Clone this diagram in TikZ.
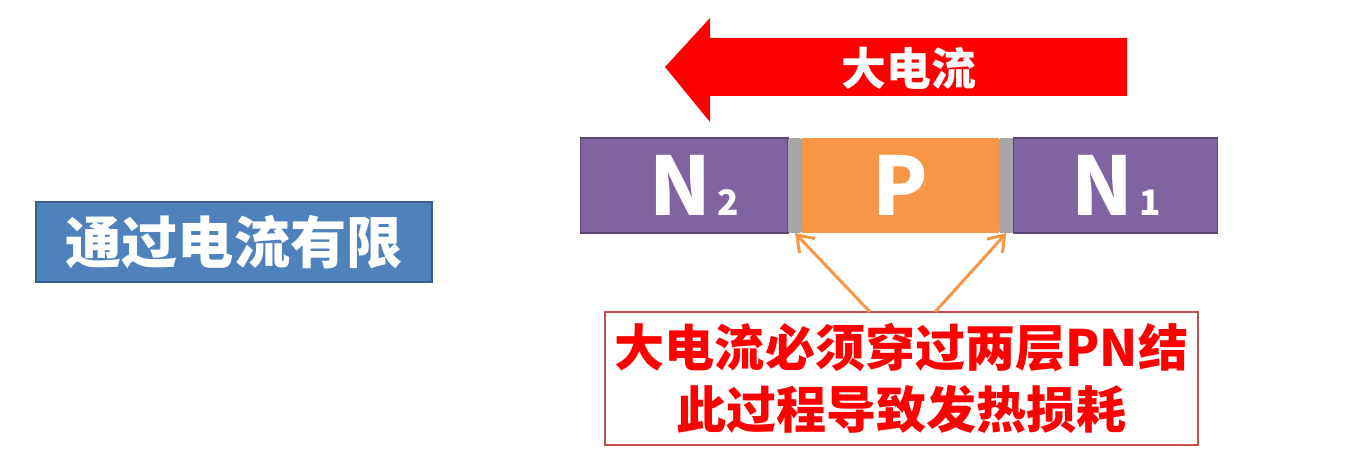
\documentclass[tikz,border=0pt]{standalone}
\usepackage{fontspec}
\setmainfont{Noto Sans CJK SC}
\usepackage{xcolor}
\usetikzlibrary{arrows.meta, positioning}
\definecolor{cBlue}{RGB}{79,129,189}
\definecolor{cBlueDark}{RGB}{56,93,138}
\definecolor{cPurple}{RGB}{128,100,162}
\definecolor{cPurpleDark}{RGB}{92,71,118}
\definecolor{cOrange}{RGB}{247,150,70}
\definecolor{cGray}{RGB}{166,166,166}
\definecolor{cRed}{RGB}{255,0,0}
\definecolor{cNote}{RGB}{192,80,77}
\tikzset{
	region/.style  ={rectangle, minimum height=1.9cm, inner sep=0pt, outer sep=0pt, text=white, font=\fontsize{46}{46}\selectfont\bfseries},
	ntype/.style   ={region, fill=cPurple, draw=cPurpleDark, line width=0.6pt},
	ptype/.style   ={region, fill=cOrange},
	junct/.style   ={rectangle, minimum height=1.9cm, inner sep=0pt, outer sep=0pt, fill=cGray, rounded corners=1pt},
	tagbox/.style  ={rectangle, fill=cBlue, draw=cBlueDark, line width=0.8pt, minimum width=7.92cm, minimum height=1.6cm, text=white, font=\fontsize{32}{35}\selectfont\bfseries},
	notebox/.style ={rectangle, draw=cNote, line width=0.9pt, fill=white, minimum width=11.86cm, minimum height=2.66cm, inner sep=0pt, align=center, text=cRed, font=\fontsize{28.5}{35.5}\selectfont\bfseries},
	hint/.style    ={-{Straight Barb[length=3mm, width=4.2mm]}, draw=cOrange, line width=1.7pt},
}
\newcommand{\smalldigit}[1]{{\fontsize{20}{20}\selectfont\,#1}}

\begin{document}
\begin{tikzpicture}[x=0.02cm, y=-0.02cm]
	\useasboundingbox (0,0) rectangle (1366,466);
	% left label
	\node[tagbox] (limit) at (234,242) {通过电流有限};
	% big current arrow
	\fill[cRed] (665,67) -- (710,18) -- (710,38) -- (1127,38) -- (1127,96) -- (710,96) -- (710,122) -- cycle;
	\node[text=white, font=\fontsize{25.5}{25.5}\selectfont\bfseries] (big) at (909,68) {大电流};
	% N2 - P - N1 bar
	\node[ntype, minimum width=4.16cm] (n2) at (684,185.5) {\hspace*{0.4cm}N\smalldigit{2}};
	\node[junct, minimum width=0.28cm, right=0pt of n2] (j1) {};
	\node[ptype, minimum width=3.94cm, right=0pt of j1] (p) {P};
	\node[junct, minimum width=0.30cm, right=0pt of p] (j2) {};
	\node[ntype, minimum width=4.08cm, right=0pt of j2] (n1) {N\smalldigit{1}};
	% explanation
	\node[notebox] (note) at (901.5,378.5) {大电流必须穿过两层PN结\\此过程导致发热损耗};
	\coordinate (s1) at (870,312);
	\coordinate (s2) at (935,312);
	\draw[hint] (s1) -- (j1.south);
	\draw[hint] (s2) -- (j2.south);
\end{tikzpicture}
\end{document}
